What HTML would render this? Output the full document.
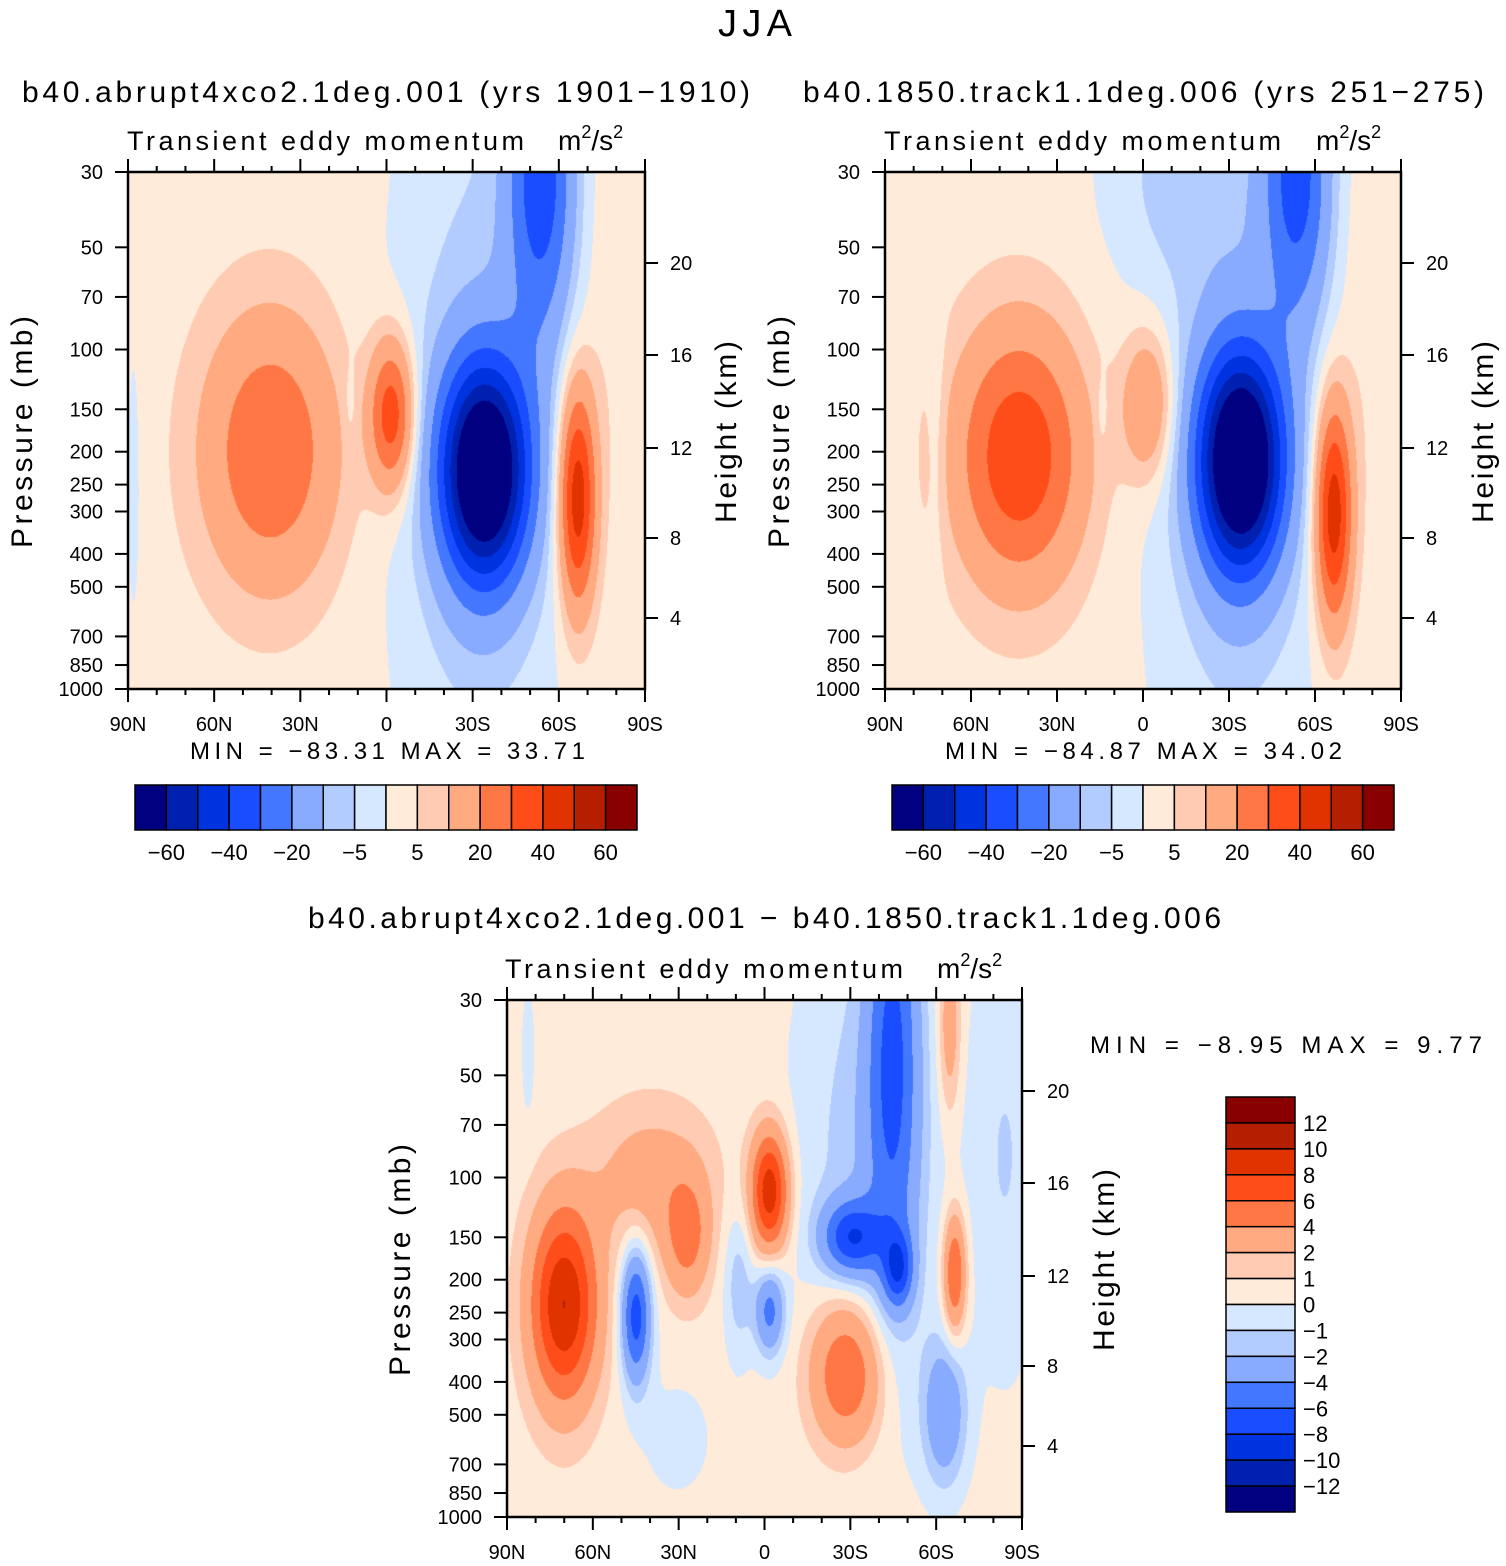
<!DOCTYPE html>
<html><head><meta charset="utf-8"><style>
body{margin:0;background:#fff;width:1506px;height:1566px;overflow:hidden;position:relative;font-family:"Liberation Sans",sans-serif}
canvas{position:absolute}
svg{position:absolute;left:0;top:0}
</style></head><body>
<canvas id="c1" width="517" height="517" style="left:128px;top:172px"></canvas>
<canvas id="c2" width="516" height="517" style="left:885px;top:172px"></canvas>
<canvas id="c3" width="515" height="517" style="left:507px;top:1000px"></canvas>
<svg id="ov" width="1506" height="1566" font-family="Liberation Sans, sans-serif"></svg>
<script>
// ---- data ----
const colors=["#000080","#0020b0","#0033e0","#1a4dff","#4477ff","#88aaff","#b3ccff","#d6e8ff","#ffebd9","#ffccb3","#ffaa80","#ff7744","#ff4d1a","#e03300","#b31f00","#880000"];
const levelsTop=[-60,-50,-40,-30,-20,-10,-5,0,5,10,20,30,40,50,60];
const levelsDiff=[-12,-10,-8,-6,-4,-2,-1,0,1,2,4,6,8,10,12];
const labelsTop=["−60","−40","−20","−5","5","20","40","60"];
const labelsDiff=["12","10","8","6","4","2","1","0","−1","−2","−4","−6","−8","−10","−12"];
const pressureTicks=[30,50,70,100,150,200,250,300,400,500,700,850,1000];
const heightTicks=[20,16,12,8,4];
const heightOffsets=[91,183,276,366,446];
const latLabels=["90N","60N","30N","0","30S","60S","90S"];
// blobs: [centerX(frac of 90N..90S), centerZ(frac of log-p), sigmaX, sigmaZ, amplitude]
const base1=2.5;
const blobs1=[[0.275,0.54,0.09,0.18,27],[0.51,0.47,0.03,0.1,36],[0.69,0.58,0.06,0.15,-80],[0.8,0.0,0.045,0.22,-36],[0.68,0.5,0.12,0.6,-10],[0.87,0.63,0.025,0.15,46],[0.43,0.45,0.008,0.05,-4],[0.01,0.6,0.012,0.25,-4],[0.95,0.3,0.05,0.3,3]];
const base2=2.5;
const blobs2=[[0.26,0.55,0.085,0.17,36],[0.51,0.45,0.035,0.1,20],[0.69,0.56,0.058,0.15,-82],[0.8,0.0,0.045,0.2,-34],[0.68,0.5,0.12,0.6,-10],[0.55,0.0,0.1,0.15,-6],[0.87,0.66,0.025,0.15,46],[0.1,0.5,0.012,0.2,-4],[0.42,0.47,0.008,0.05,-4],[0.95,0.3,0.05,0.3,3]];
const base3=0.5;
const blobs3=[[0.11,0.59,0.045,0.13,9.5],[0.25,0.61,0.02,0.09,-7.5],[0.35,0.46,0.03,0.08,4],[0.28,0.35,0.08,0.1,2.5],[0.51,0.37,0.025,0.08,9],[0.51,0.6,0.02,0.06,-5],[0.45,0.55,0.02,0.1,-2],[0.67,0.46,0.04,0.05,-7],[0.76,0.52,0.02,0.05,-6],[0.75,0.1,0.035,0.3,-6],[0.7,0.3,0.1,0.35,-2],[0.66,0.72,0.05,0.1,6],[0.85,0.8,0.03,0.1,-4],[0.87,0.53,0.015,0.08,6],[0.86,0.05,0.015,0.12,3],[0.97,0.3,0.05,0.3,-1.5],[0.33,0.85,0.06,0.1,-0.8],[0.04,0.1,0.01,0.1,-1]];

function drawField(id,blobs,base,levels){
 const c=document.getElementById(id),ctx=c.getContext('2d'),W=c.width,H=c.height;
 const img=ctx.createImageData(W,H);
 const rgb=colors.map(h=>[parseInt(h.substr(1,2),16),parseInt(h.substr(3,2),16),parseInt(h.substr(5,2),16)]);
 for(let j=0;j<H;j++){const z=j/(H-1);for(let i=0;i<W;i++){const x=i/(W-1);let v=base;
  for(const b of blobs){const dx=(x-b[0])/b[2],dz=(z-b[1])/b[3];v+=b[4]*Math.exp(-0.5*(dx*dx+dz*dz));}
  let k=0;while(k<levels.length&&v>=levels[k])k++;const col=rgb[k],o=(j*W+i)*4;
  img.data[o]=col[0];img.data[o+1]=col[1];img.data[o+2]=col[2];img.data[o+3]=255;}}
 ctx.putImageData(img,0,0);
}
drawField('c1',blobs1,base1,levelsTop);
drawField('c2',blobs2,base2,levelsTop);
drawField('c3',blobs3,base3,levelsDiff);

const NS="http://www.w3.org/2000/svg",ov=document.getElementById('ov');
function el(tag,attrs,parent){const e=document.createElementNS(NS,tag);for(const k in attrs)e.setAttribute(k,attrs[k]);(parent||ov).appendChild(e);return e;}
function txt(s,x,y,size,anchor,len,name){const t=el('text',{x:x,y:y,'font-size':size,'text-anchor':anchor||'start',fill:'#000'});
 if(len){t.setAttribute('textLength',len);t.setAttribute('lengthAdjust','spacing');}
 t.textContent=s;
 
 
 return t;}
function unitText(x,y,name){const t=el('text',{x:x,y:y,'font-size':28,fill:'#000'});
 
 
 t.innerHTML='m<tspan dy="-12" font-size="18">2</tspan><tspan dy="12">/s</tspan><tspan dy="-12" font-size="18">2</tspan>';}

function panel(x0,y0,W,H,prefix,axX,axY,hX){
 const g=el('g',{});
 
 
 el('rect',{x:x0,y:y0,width:W,height:H,fill:'none',stroke:'#000','stroke-width':2.5},g);
 const yp=p=>y0+Math.log(p/30)/Math.log(1000/30)*H;
 pressureTicks.forEach(p=>{const y=yp(p);el('line',{x1:x0-13,y1:y,x2:x0,y2:y,stroke:'#000','stroke-width':2},g);
  txt(String(p),x0-25,y+7,20,'end',null,'pressure-tick-label');});
 heightTicks.forEach((h,i)=>{const y=y0+heightOffsets[i];el('line',{x1:x0+W,y1:y,x2:x0+W+13,y2:y,stroke:'#000','stroke-width':2},g);
  txt(String(h),x0+W+25,y+7,20,'start',null,'height-tick-label');});
 for(let k=0;k<=18;k++){const x=x0+k*W/18,maj=k%3==0,L=maj?13:6;
  el('line',{x1:x,y1:y0+H,x2:x,y2:y0+H+L,stroke:'#000','stroke-width':2},g);
  el('line',{x1:x,y1:y0,x2:x,y2:y0-L,stroke:'#000','stroke-width':2},g);
  if(maj)txt(latLabels[k/3],x,y0+H+42,20,'middle',null,'latitude-tick-label');}
 const t1=txt('Pressure (mb)',0,0,30,'middle',232,'y-axis-title');t1.setAttribute('transform','translate('+axX+','+axY+') rotate(-90)');
 const t2=txt('Height (km)',0,0,30,'middle',182,'y2-axis-title');t2.setAttribute('transform','translate('+hX+','+axY+') rotate(-90)');
}
panel(128,172,517,517,'left',32,432,736);
panel(885,172,516,517,'right',789,432,1493);
panel(507,1000,515,517,'diff',410,1260,1114);

txt('JJA',755,36,38,'middle',74,'figure-title');
txt('b40.abrupt4xco2.1deg.001 (yrs 1901−1910)',22,102,30,'start',728,'left-panel-title');
txt('b40.1850.track1.1deg.006 (yrs 251−275)',803,102,30,'start',681,'right-panel-title');
txt('b40.abrupt4xco2.1deg.001 − b40.1850.track1.1deg.006',308,928,30,'start',913,'diff-panel-title');
txt('Transient eddy momentum',127,150,27,'start',397,'left-variable-label');unitText(558,150,'left-units');
txt('Transient eddy momentum',884,150,27,'start',397,'right-variable-label');unitText(1316,150,'right-units');
txt('Transient eddy momentum',505,978,27,'start',398,'diff-variable-label');unitText(937,978,'diff-units');
txt('MIN = −83.31  MAX = 33.71',190,759,24,'start',395,'left-min-max');
txt('MIN = −84.87  MAX = 34.02',945,759,24,'start',397,'right-min-max');
txt('MIN = −8.95  MAX = 9.77',1090,1053,24,'start',392,'diff-min-max');

function hbar(x0,y0,W,H,name){const g=el('g',{});
 
 
 const w=W/colors.length;
 colors.forEach((c,i)=>el('rect',{x:x0+i*w,y:y0,width:w,height:H,fill:c,stroke:'#000','stroke-width':1.5},g));
 labelsTop.forEach((l,i)=>txt(l,x0+(2*i+1)*w,y0+H+30,22,'middle',null,'colorbar-label'));}
hbar(135,785,502,45,'left-colorbar');
hbar(892,785,502,45,'right-colorbar');
(function(){const g=el('g',{});
 
 
 const x0=1226,y0=1097,W=69,h=415/colors.length;
 colors.slice().reverse().forEach((c,i)=>el('rect',{x:x0,y:y0+i*h,width:W,height:h,fill:c,stroke:'#000','stroke-width':1.5},g));
 labelsDiff.forEach((l,i)=>txt(l,x0+W+8,y0+(i+1)*h+8,22,'start',null,'colorbar-label'));})();
</script>
</body></html>
